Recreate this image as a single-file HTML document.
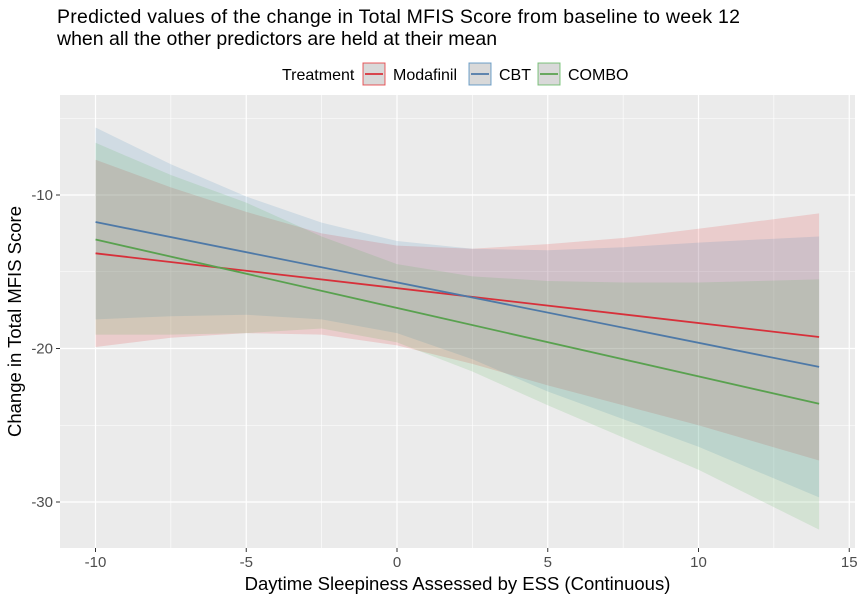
<!DOCTYPE html>
<html><head><meta charset="utf-8"><style>
body{margin:0;background:#fff;font-family:"Liberation Sans",sans-serif}
</style></head><body>
<svg id="c" width="861" height="600" xmlns="http://www.w3.org/2000/svg" font-family="Liberation Sans, sans-serif">
<text x="57" y="23" font-size="19.5" fill="#000" textLength="683">Predicted values of the change in Total MFIS Score from baseline to week 12</text>
<text x="57" y="45" font-size="19.5" fill="#000">when all the other predictors are held at their mean</text>
<g id="legend"></g>
<g id="plot"></g>
</svg>
<script>
const xPoints=[-10,-7.5,-5,-2.5,0,2.5,5,7.5,10,14];
const modUpper=[-7.7,-9.5,-11.1,-12.5,-13.3,-13.5,-13.2,-12.8,-12.2,-11.2];
const modLower=[-19.9,-19.3,-19.0,-19.1,-19.8,-21.0,-22.4,-23.7,-25.0,-27.3];
const cbtUpper=[-5.6,-8.0,-10.1,-11.8,-13.0,-13.5,-13.6,-13.4,-13.1,-12.7];
const cbtLower=[-18.1,-17.9,-17.8,-18.1,-19.0,-20.7,-22.8,-24.6,-26.4,-29.7];
const comUpper=[-6.6,-8.7,-10.5,-12.7,-14.5,-15.3,-15.6,-15.7,-15.7,-15.5];
const comLower=[-19.1,-19.1,-19.0,-18.7,-19.6,-21.5,-23.7,-25.8,-27.9,-31.8];
const lineX=[-10,14];
const modLine=[-13.8,-19.25];
const cbtLine=[-11.76,-21.2];
const comLine=[-12.9,-23.6];
const xTicks=[-10,-5,0,5,10,15];
const yTicks=[-10,-20,-30];
const seriesNames=["Modafinil","CBT","COMBO"];

const NS="http://www.w3.org/2000/svg";
const L=60,R=855,T=95,B=548;
const X=v=>397+(v-0)*30.15;
const Y=v=>195-(v+10)*15.35;
function mk(tag,attrs,parent){const e=document.createElementNS(NS,tag);for(const k in attrs)e.setAttribute(k,attrs[k]);parent.appendChild(e);return e;}
const plot=document.getElementById('plot');
const bg=mk('rect',{x:L,y:T,width:R-L,height:B-T,fill:'#EBEBEB'},plot);


[-7.5,-2.5,2.5,7.5,12.5].forEach(v=>{const g=mk('line',{x1:X(v),x2:X(v),y1:T,y2:B,stroke:'#fff','stroke-width':0.6},plot);

});
[-5,-15,-25].forEach(v=>{const g=mk('line',{x1:L,x2:R,y1:Y(v),y2:Y(v),stroke:'#fff','stroke-width':0.6},plot);

});
xTicks.forEach(v=>{const g=mk('line',{x1:X(v),x2:X(v),y1:T,y2:B,stroke:'#fff','stroke-width':1.2},plot);


mk('line',{x1:X(v),x2:X(v),y1:B,y2:B+4,stroke:'#333','stroke-width':1},plot);
const t=mk('text',{x:X(v),y:B+19,'font-size':15,fill:'#4D4D4D','text-anchor':'middle'},plot);t.textContent=v;

});
yTicks.forEach(v=>{const g=mk('line',{x1:L,x2:R,y1:Y(v),y2:Y(v),stroke:'#fff','stroke-width':1.2},plot);


mk('line',{x1:L-4,x2:L,y1:Y(v),y2:Y(v),stroke:'#333','stroke-width':1},plot);
const t=mk('text',{x:L-7,y:Y(v)+5,'font-size':15,fill:'#4D4D4D','text-anchor':'end'},plot);t.textContent=v;

});
const cols=['#D7303A','#4E79A7','#59A14F'];
const fills=['#E41A1C','#377EB8','#4DAF4A'];
const bands=[[modUpper,modLower],[cbtUpper,cbtLower],[comUpper,comLower]];
const lines=[modLine,cbtLine,comLine];
bands.forEach((b,i)=>{let d='M'+xPoints.map((x,j)=>X(x)+','+Y(b[0][j])).join('L');
for(let j=xPoints.length-1;j>=0;j--)d+='L'+X(xPoints[j])+','+Y(b[1][j]);d+='Z';
const p=mk('path',{d:d,fill:fills[i],'fill-opacity':0.15},plot);

});
lines.forEach((ln,i)=>{const p=mk('line',{x1:X(lineX[0]),y1:Y(ln[0]),x2:X(lineX[1]),y2:Y(ln[1]),stroke:cols[i],'stroke-width':1.8},plot);

});
const xt=mk('text',{x:(L+R)/2,y:590,'font-size':18.5,fill:'#000','text-anchor':'middle'},plot);xt.textContent='Daytime Sleepiness Assessed by ESS (Continuous)';


const yt=mk('text',{x:0,y:0,'font-size':18.5,fill:'#000','text-anchor':'middle',transform:'translate(21,'+((T+B)/2)+') rotate(-90)'},plot);yt.textContent='Change in Total MFIS Score';


const lg=document.getElementById('legend');
const lt=mk('text',{x:282,y:80,'font-size':16,fill:'#000'},lg);lt.textContent='Treatment';


const lx=[363,469,538];
seriesNames.forEach((n,i)=>{const g=mk('g',{},lg);


mk('rect',{x:lx[i],y:63,width:22,height:22,fill:'#D9D9D9',stroke:fills[i],'stroke-opacity':0.7},g);
mk('line',{x1:lx[i]+2,x2:lx[i]+20,y1:74,y2:74,stroke:cols[i],'stroke-width':1.8},g);
const t=mk('text',{x:lx[i]+30,y:80,'font-size':16,fill:'#000'},g);t.textContent=n;});
</script>
</body></html>
